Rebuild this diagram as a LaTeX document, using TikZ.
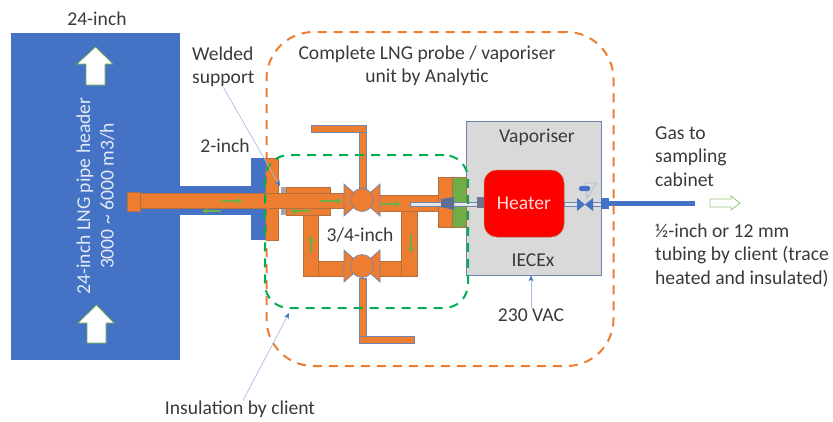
\documentclass[tikz,border=0pt]{standalone}
\usepackage{fontspec}
\setmainfont{Carlito}
\usetikzlibrary{arrows.meta}
\definecolor{hdrblue}{HTML}{4472C4}
\definecolor{pipeor}{HTML}{ED7D31}
\definecolor{flowgr}{HTML}{70AD47}
\definecolor{insgr}{HTML}{00B050}
\definecolor{edgeor}{HTML}{B4703C}
\definecolor{edgebl}{HTML}{6F83B0}
\definecolor{leadbl}{HTML}{A9BDE3}
\definecolor{txt}{HTML}{3A3A3A}
\tikzset{
  lbl/.style={text=txt,font=\fontsize{19.6}{23.5}\selectfont,inner sep=0pt,align=center},
  lblL/.style={lbl,align=left,anchor=west},
  pipe/.style={fill=pipeor,draw=edgeor,line width=.6pt},
  stem/.style={fill=pipeor,draw=edgebl,line width=.9pt},
  flow/.style={-{Stealth[length=6pt,width=6pt]},draw=flowgr,line width=1.1pt},
  lead/.style={-{Stealth[length=6pt,width=5pt,color=hdrblue]},draw=leadbl,line width=.7pt},
  tube/.style={fill=white!80!gray,draw=edgebl,line width=.7pt},
  bowtie/.style={fill=#1,draw=edgebl,line width=.7pt},
  uparrow/.style={fill=white,draw=flowgr,line width=.7pt}
}
% valve drawn at a centre point
\newcommand{\valvebody}[1]{
  \draw[bowtie=pipeor] (#1) ++(-18,-16) -- ++(18,16) -- ++(-18,16) -- cycle;
  \draw[bowtie=pipeor] (#1) ++(18,-16) -- ++(-18,16) -- ++(18,16) -- cycle;
  \draw[pipe,draw=edgebl] (#1) circle (11.5);
}
\begin{document}
\begin{tikzpicture}[x=1pt,y=-1pt]
\useasboundingbox (0,0) rectangle (833,421);

% header and its sleeve
\node[fill=hdrblue,minimum width=169,minimum height=327,inner sep=0pt] (Hdr) at (95.5,196.5) {};
\fill[hdrblue] (180,186) rectangle (252,215);
\draw[uparrow] (77,64) -- (95.5,47) -- (113,64) -- (105,64) -- (105,85) -- (86,85) -- (86,64) -- cycle;
\draw[uparrow] (78,323) -- (96.5,305) -- (114,323) -- (106,323) -- (106,343) -- (87,343) -- (87,323) -- cycle;
\node[lbl,rotate=90,text=white!85!hdrblue] (HdrTxt) at (95.5,196) {24-inch LNG pipe header\\3000 \textasciitilde{} 6000 m3/h};

% flange and probe
\fill[hdrblue] (251,158) rectangle (266,240);
\draw[pipe] (266,158) rectangle (278,240);
\draw[pipe] (286,187) rectangle (330,215);
\fill[gray!70] (281,187) rectangle (286,215);
\draw[pipe] (140,193) rectangle (346,208);
\draw[pipe] (127,192) rectangle (140,211);

% bypass loop
\draw[pipe] (303,215) rectangle (318,276);
\draw[pipe] (318,261) rectangle (346,276);
\draw[pipe] (378,261) rectangle (401,276);
\draw[pipe] (401,211) rectangle (417,276);
\draw[pipe] (378,195) rectangle (438,211);
\draw[stem] (311,125) rectangle (366,132);
\draw[stem] (359,132) rectangle (366,188);
\draw[stem] (359,278) rectangle (366,336);
\draw[stem] (359,336) rectangle (414,343);
\valvebody{362,200}
\valvebody{362,266}

% vaporiser
\node[fill=black!15,draw=edgebl,line width=.9pt,minimum width=135,minimum height=154,inner sep=0pt] (Vap) at (533.5,198) {};
\node[fill=red,draw=edgeor,line width=.5pt,rounded corners=13pt,minimum width=80,minimum height=67,inner sep=0pt,text=white!85!red,font=\fontsize{19.6}{23.5}\selectfont] (Htr) at (524,203.5) {Heater};
\draw[pipe] (438,177) rectangle (452,227);
\draw[fill=flowgr,draw=edgeor,line width=.6pt] (452,177) rectangle (466,227);
\draw[tube] (410,202) rectangle (478,206);
\fill[edgebl!85!black] (441,199) -- (454,197) -- (454,210) -- (441,207) -- cycle;
\fill[gray!90!blue] (477,197) rectangle (484,208);
\draw[tube] (564,202) rectangle (578,206);
\draw[tube] (592,202) rectangle (601,206);
\draw[leadbl,line width=.7pt] (585,183) -- (597,183) -- (587,198) -- cycle;
\fill[hdrblue,rounded corners=1.5pt] (579,186) rectangle (590,191);
\fill[hdrblue] (577,198) -- (585,204.5) -- (593,198) -- (593,211) -- (585,204.5) -- (577,211) -- cycle;
\fill[hdrblue] (601,198) rectangle (609,209);
\fill[hdrblue] (609,201) rectangle (695,206);
\draw[flowgr!70,fill=white,line width=.9pt] (710,199) -- (731,199) -- (731,196) -- (740,203) -- (731,210) -- (731,207) -- (710,207) -- cycle;

% flow directions
\foreach \xa/\xb/\ya in {221/242/201, 320/342/201, 221/202/211, 310/290/211, 380/401/204}
  \draw[flow] (\xa,\ya) -- (\xb,\ya);
\draw[flow] (311,253) -- (311,236);
\draw[flow] (411,234) -- (411,253);

% dashed boundaries
\node[draw=pipeor,dash pattern=on 9pt off 7pt,line width=2pt,rounded corners=47pt,minimum width=347,minimum height=334,inner sep=0pt] (Unit) at (440,199) {};
\node[draw=insgr,dash pattern=on 9pt off 7pt,line width=2pt,rounded corners=24pt,minimum width=203,minimum height=153,inner sep=0pt] (Ins) at (366.5,231.5) {};

% labels
\node[lbl] (L24) at (97,19) {24-inch};
\node[lblL] (Welded) at (192,67) {Welded\\support};
\node[lbl] (L2) at (225,146) {2-inch};
\node[lbl] (Compl) at (427,66) {Complete LNG probe / vaporiser\\unit by Analytic};
\node[lbl] (L34) at (360,235) {3/4-inch};
\node[lbl] (VapTxt) at (537,137) {Vaporiser};
\node[lbl] (Iec) at (533,260) {IECEx};
\node[lbl] (Vac) at (531,315) {230 VAC};
\node[lblL] (Gas) at (655,156.5) {Gas to\\sampling\\cabinet};
\node[lblL] (Tubing) at (655,255.5) {½-inch or 12 mm\\tubing by client (trace\\heated and insulated)};
\node[lbl] (Insul) at (240,409) {Insulation by client};

% leaders
\coordinate (WeldTip) at (280,186);
\coordinate (InsTip) at (289,313);
\draw[lead] (Welded.south) -- (WeldTip);
\draw[lead] ([xshift=3pt]Insul.north) -- (InsTip);
\draw[lead] (Vac.north) -- (Vac.north |- Vap.south);
\end{tikzpicture}
\end{document}
